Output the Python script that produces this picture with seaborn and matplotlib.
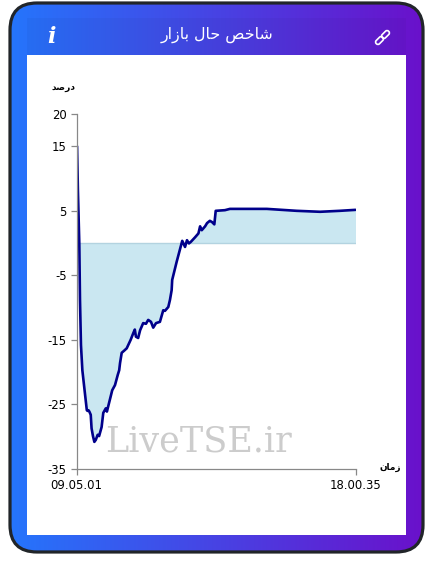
import numpy as np
import pandas as pd
import matplotlib
matplotlib.use('Agg')
import matplotlib.pyplot as plt
from matplotlib.colors import LinearSegmentedColormap
from matplotlib.patches import FancyBboxPatch, Rectangle
from matplotlib.transforms import Affine2D
import seaborn as sns

# position in session (% of the time axis) and index change (percent)
session_pos = [0.2, 0.5, 1.0, 1.25, 1.6, 2.1, 3.0, 3.7, 4.0, 4.3, 4.6, 5.1, 5.4, 5.9, 6.4, 6.9, 7.6, 8.1, 9.0, 9.6,
               10.5, 10.9, 12.4, 12.8, 13.8, 14.8, 15.3, 15.6, 16.2, 17.0, 18.0, 19.4, 20.4, 20.9, 21.3, 22.1,
               22.8, 23.9, 24.9, 25.7, 26.7, 27.5, 28.5, 29.9, 31.1, 31.7, 32.9, 33.5, 34.1, 34.3, 35.9, 36.7,
               37.9, 38.9, 39.6, 40.3, 41.0, 42.5, 43.7, 44.3, 44.9, 46.1, 46.8, 47.8, 48.6, 49.4, 49.9, 53.2,
               55.0, 62.2, 68.2, 78.9, 87.3, 94.4, 100.0]
percent = [15.0, 8.2, 0.0, -8.8, -15.8, -19.7, -23.2, -25.9, -26.0, -25.9, -26.1, -26.6, -28.7, -29.9, -30.8,
           -30.5, -29.7, -29.9, -28.5, -26.3, -25.6, -26.1, -23.5, -22.8, -22.0, -20.4, -19.7, -18.6, -17.0,
           -16.7, -16.3, -15.0, -13.9, -13.4, -14.5, -14.7, -13.5, -12.4, -12.5, -11.9, -12.2, -13.1, -12.4,
           -12.2, -10.4, -10.5, -9.9, -8.8, -7.3, -5.7, -2.9, -1.6, 0.35, -0.6, 0.45, -0.05, 0.2, 0.9, 1.5,
           2.6, 2.0, 2.6, 3.1, 3.45, 3.25, 2.9, 5.0, 5.1, 5.3, 5.3, 5.3, 5.0, 4.85, 5.0, 5.15]
y_ticks = [20, 15, 5, -5, -15, -25, -35]
x_ticks = [0, 100]
x_labels = ['09.05.01', '18.00.35']

# arabic written in shaped, visual order because matplotlib does no shaping
title_text = '\ufead\ufe8d\ufeaf\ufe8e\ufe91 \ufedd\ufe8e\ufea3 \ufeba\ufea7\ufe8e\ufeb7'
ylabel_text = '\ufeaa\ufebb\ufead\ufea9'
xlabel_text = '\ufee5\ufe8e\ufee3\ufeaf'

W, H = 433, 574

sns.set_theme(style='white')
plt.rcParams['font.family'] = ['DejaVu Sans']

df = pd.DataFrame({'pos': session_pos, 'percent': percent})

fig = plt.figure(figsize=(W / 100, H / 100), dpi=100, facecolor='white')

# card behind the chart, drawn in pixel coordinates
bg = fig.add_axes([0, 0, 1, 1], zorder=0)
bg.set_xlim(0, W)
bg.set_ylim(H, 0)
bg.axis('off')

cmap = LinearSegmentedColormap.from_list('card', ['#2575fc', '#6a11cb'])
grad = bg.imshow(np.linspace(0, 1, 256).reshape(1, -1), cmap=cmap, aspect='auto', extent=(10, 423, 553, 3), zorder=1)
bg.set_xlim(0, W)
bg.set_ylim(H, 0)
card = FancyBboxPatch((10, 3), 413, 549, boxstyle='round,pad=0,rounding_size=27',
                      fc='none', ec='#212529', lw=2.3, zorder=3)
bg.add_patch(card)
grad.set_clip_path(card)
bg.add_patch(Rectangle((27, 18), 379, 37, fc='black', alpha=0.03, lw=0, zorder=2))
bg.add_patch(Rectangle((27, 55), 379, 480, fc='white', lw=0, zorder=2))

bg.text(217, 35, title_text, color='white', fontsize=11.4, ha='center', va='center', zorder=4)
bg.text(51, 37, 'i', color='white', fontsize=16, family='DejaVu Serif', style='italic', weight='bold',
        ha='center', va='center', zorder=4)
for cx, cy in [(379.5, 40.5), (385.5, 34.5)]:
    link = FancyBboxPatch((cx - 4.5, cy - 2.3), 9, 4.6, boxstyle='round,pad=0,rounding_size=2.2', fc='none',
                          ec='white', lw=1.2, zorder=4,
                          transform=Affine2D().rotate_deg_around(cx, cy, -45) + bg.transData)
    bg.add_patch(link)

bg.text(63, 88, ylabel_text, color='black', fontsize=6.6, weight='bold', ha='center', va='center', zorder=4)
bg.text(390, 467, xlabel_text, color='black', fontsize=6.4, weight='bold', ha='center', va='center', zorder=4)

# chart
ax = fig.add_axes([76.5 / W, 1 - 469 / H, 279 / W, 355 / H], zorder=1)
ax.patch.set_alpha(0)
ax.fill_between(df['pos'], df['percent'], 0, where=df['pos'] >= 1.0, color='#cae7f1', lw=0, interpolate=True)
ax.axhline(0, color='#b3d3e0', lw=1, xmin=0.01)
sns.lineplot(data=df, x='pos', y='percent', color='#00008b', lw=1.9, ax=ax, errorbar=None, estimator=None)

ax.set_xlim(0, 100)
ax.set_ylim(-35, 20)
ax.set_xticks(x_ticks)
ax.set_xticklabels(x_labels)
ax.set_yticks(y_ticks)
ax.set_yticklabels([str(t) for t in y_ticks])
ax.set_xlabel('')
ax.set_ylabel('')
ax.tick_params(axis='both', length=4, width=0.9, color='#888888', labelsize=8.4, labelcolor='black', pad=3,
               left=True, bottom=True)
sns.despine(ax=ax)
for side in ['left', 'bottom']:
    ax.spines[side].set_color('#888888')
    ax.spines[side].set_linewidth(0.9)

ax.text(0.437, 0.048, 'LiveTSE.ir', transform=ax.transAxes, family='DejaVu Serif', fontsize=25.2, color='#cccccc',
        ha='center', va='baseline', zorder=5)

fig.savefig('out.png', dpi=100)
